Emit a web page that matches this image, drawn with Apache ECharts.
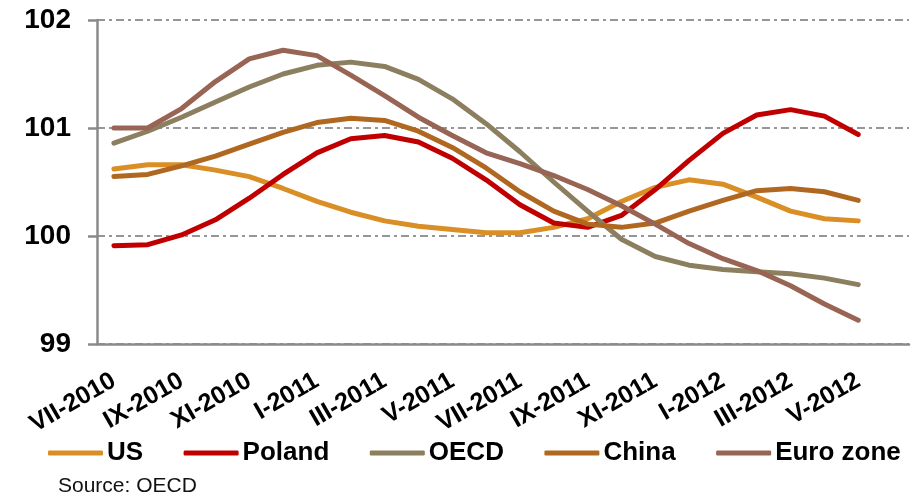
<!DOCTYPE html>
<html>
<head>
<meta charset="utf-8">
<script src="https://cdn.jsdelivr.net/npm/echarts@6/dist/echarts.min.js"></script>
<style>
  html, body { margin: 0; padding: 0; background: #fff; }
  #chart { width: 912px; height: 496px; }
</style>
</head>
<body>
<div id="chart"></div>
<script>
// Monthly categories, July 2010 – June 2012 (Roman numeral months)
const categories = [
  'VII-2010', 'VIII-2010', 'IX-2010', 'X-2010', 'XI-2010', 'XII-2010',
  'I-2011', 'II-2011', 'III-2011', 'IV-2011', 'V-2011', 'VI-2011',
  'VII-2011', 'VIII-2011', 'IX-2011', 'X-2011', 'XI-2011', 'XII-2011',
  'I-2012', 'II-2012', 'III-2012', 'IV-2012', 'V-2012', 'VI-2012'
];

// Composite leading indicators (amplitude adjusted, long-term average = 100)
const us = [100.62, 100.66, 100.66, 100.61, 100.55, 100.44, 100.32, 100.22, 100.14, 100.09, 100.06, 100.03,
  100.03, 100.08, 100.16, 100.32, 100.45, 100.52, 100.48, 100.36, 100.23, 100.16, 100.14, null];
const poland = [99.91, 99.92, 100.01, 100.15, 100.35, 100.57, 100.77, 100.90, 100.93, 100.87, 100.72, 100.52,
  100.29, 100.12, 100.08, 100.19, 100.43, 100.70, 100.95, 101.12, 101.17, 101.11, 100.94, null];
const oecd = [100.86, 100.97, 101.10, 101.24, 101.38, 101.50, 101.58, 101.61, 101.57, 101.45, 101.27, 101.04,
  100.78, 100.50, 100.23, 99.97, 99.81, 99.73, 99.69, 99.67, 99.65, 99.61, 99.55, null];
const china = [100.55, 100.57, 100.65, 100.74, 100.85, 100.96, 101.05, 101.09, 101.07, 100.97, 100.82, 100.63,
  100.41, 100.23, 100.11, 100.08, 100.12, 100.23, 100.33, 100.42, 100.44, 100.41, 100.33, null];
const euroZone = [101.00, 101.00, 101.18, 101.43, 101.64, 101.72, 101.67, 101.49, 101.30, 101.10, 100.93, 100.77,
  100.67, 100.56, 100.43, 100.28, 100.11, 99.93, 99.79, 99.68, 99.54, 99.37, 99.22, null];

const yTicks = { min: 99, max: 102, interval: 1 };

const seriesDefs = [
  { name: 'US', data: us, color: '#D98E26' },
  { name: 'Poland', data: poland, color: '#C00000' },
  { name: 'OECD', data: oecd, color: '#8C7F60' },
  { name: 'China', data: china, color: '#B06820' },
  { name: 'Euro zone', data: euroZone, color: '#986454' }
];

const FONT = '"Liberation Sans", Arial, sans-serif';
const chart = echarts.init(document.getElementById('chart'), null, { renderer: 'canvas' });

chart.setOption({
  animation: false,
  backgroundColor: '#ffffff',
  grid: { left: 97, right: 3, top: 20, bottom: 152, containLabel: false },
  legend: {
    left: 43,
    top: 435,
    icon: 'roundRect',
    itemWidth: 55,
    itemHeight: 5,
    itemGap: 40.5,
    textStyle: { fontFamily: FONT, fontSize: 26, fontWeight: 'bold', color: '#000', padding: [0, 0, 0, -1] },
    data: seriesDefs.map(s => s.name)
  },
  graphic: [{
    type: 'text',
    left: 58,
    top: 476,
    style: { text: 'Source: OECD', fontFamily: FONT, fontSize: 21, fill: '#111' }
  }],
  xAxis: {
    type: 'category',
    data: categories,
    boundaryGap: true,
    axisLine: { lineStyle: { color: '#8a8a8a', width: 2.5 } },
    axisTick: { interval: 0, length: 7, lineStyle: { color: '#8a8a8a', width: 2.5 } },
    axisLabel: {
      interval: 1,
      rotate: 30,
      margin: 35,
      fontFamily: FONT,
      fontSize: 25,
      fontWeight: 'bold',
      color: '#000'
    },
    splitLine: { show: false }
  },
  yAxis: {
    type: 'value',
    min: yTicks.min,
    max: yTicks.max,
    interval: yTicks.interval,
    axisLine: { show: true, lineStyle: { color: '#8a8a8a', width: 2.5 } },
    axisTick: { show: true, length: 9, lineStyle: { color: '#8a8a8a', width: 2.5 } },
    axisLabel: {
      margin: 26,
      fontFamily: FONT,
      fontSize: 28,
      fontWeight: 'bold',
      color: '#000'
    },
    splitLine: {
      show: true,
      lineStyle: { color: '#969696', width: 2, type: [8, 4, 3, 4] }
    }
  },
  series: seriesDefs.map(s => ({
    name: s.name,
    type: 'line',
    data: s.data,
    color: s.color,
    symbol: 'none',
    smooth: false,
    connectNulls: false,
    lineStyle: { width: 5, color: s.color, cap: 'round', join: 'round' }
  }))
});
</script>
</body>
</html>
